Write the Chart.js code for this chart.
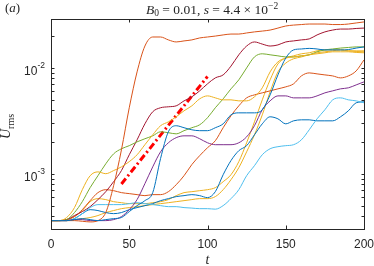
<!DOCTYPE html>
<html lang="en">
<head>
<meta charset="UTF-8">
<title>U_rms growth, B0 = 0.01</title>
<script src="https://cdn.jsdelivr.net/npm/chart.js"></script>
<style>
    html, body { margin: 0; padding: 0; background: #fff; }
    #wrap { width: 374px; height: 266px; }
</style>
</head>
<body>
<div id="wrap"><canvas id="chart" width="374" height="266"></canvas></div>
<script>
    // time samples
    const tValues = [0, 5, 10, 15, 20, 25, 30, 35, 40, 45, 50, 55, 60, 65, 70, 75, 80, 85, 90, 95,
                     100, 105, 110, 115, 120, 125, 130, 135, 140, 145, 150, 155, 160, 165, 170, 175, 180, 185, 190, 195, 200];

    // U_rms of each run, in units of 1e-3
    const blueA = [0.36, 0.36, 0.36, 0.368, 0.376, 0.368, 0.36, 0.368, 0.376, 0.385,
                   0.438, 0.499, 0.556, 0.662, 1.39, 2.49, 2.84, 2.72, 2.60, 2.55,
                   2.55, 2.72, 2.96, 3.60, 3.76, 3.76, 3.76, 4.02, 5.56, 8.59,
                   12.4, 14.8, 15.1, 15.3, 15.1, 14.8, 14.8, 14.8, 14.9, 15.4, 15.8];
    const orangeA = [0.36, 0.36, 0.36, 0.36, 0.355, 0.35, 0.36, 0.43, 0.77, 1.68,
                     4.20, 9.17, 16.1, 19.6, 19.6, 18.4, 17.6, 18.0, 18.4, 19.2,
                     19.6, 20.0, 20.5, 20.9, 20.9, 21.4, 21.9, 22.3, 22.8, 23.8,
                     24.9, 25.4, 25.7, 26.0, 26.0, 26.0, 25.7, 25.7, 26.0, 26.6, 27.2];
    const yellowA = [0.36, 0.36, 0.385, 0.478, 0.706, 0.957, 1.04, 1.00, 1.07, 1.16,
                     1.30, 1.51, 1.88, 2.33, 2.84, 3.09, 3.45, 3.93, 4.38, 5.10,
                     5.44, 5.21, 4.99, 4.99, 4.88, 4.88, 5.33, 6.48, 9.17, 11.4,
                     12.4, 12.7, 13.0, 13.3, 13.9, 14.2, 14.5, 14.8, 14.5, 14.3, 14.2];
    const purple = [0.36, 0.36, 0.36, 0.368, 0.368, 0.36, 0.36, 0.36, 0.368, 0.393,
                    0.457, 0.569, 0.805, 1.16, 1.61, 1.96, 2.19, 2.28, 2.28, 2.14,
                    1.96, 1.88, 1.88, 1.88, 1.96, 2.23, 2.84, 4.02, 4.88, 5.44,
                    5.44, 5.21, 5.21, 5.21, 5.44, 5.81, 6.07, 6.34, 6.48, 6.91, 7.38];
    const green = [0.36, 0.36, 0.368, 0.429, 0.544, 0.738, 0.957, 1.24, 1.54, 1.72,
                   1.84, 2.00, 2.14, 2.28, 2.49, 2.44, 2.38, 2.55, 2.72, 2.90,
                   3.38, 4.20, 5.10, 6.34, 7.71, 10.0, 12.7, 13.6, 13.3, 13.0,
                   12.7, 12.7, 13.0, 13.3, 14.2, 14.8, 15.1, 15.4, 15.6, 15.8, 15.8];
    const lightBlue = [0.36, 0.36, 0.36, 0.376, 0.419, 0.478, 0.510, 0.510, 0.510, 0.510,
                       0.521, 0.532, 0.521, 0.510, 0.499, 0.488, 0.488, 0.478, 0.473, 0.467,
                       0.467, 0.462, 0.499, 0.581, 0.706, 0.957, 1.19, 1.51, 1.72, 1.80,
                       1.84, 1.88, 2.09, 2.60, 3.30, 4.02, 4.99, 5.21, 4.99, 4.88, 4.68];
    const darkRed = [0.36, 0.36, 0.368, 0.402, 0.438, 0.488, 0.569, 0.676, 0.840, 1.07,
                     1.51, 2.09, 2.96, 3.85, 4.20, 4.29, 4.38, 4.88, 5.33, 6.07,
                     7.07, 8.05, 8.59, 10.4, 13.3, 16.1, 17.6, 16.8, 16.1, 16.5,
                     17.6, 18.0, 18.4, 18.8, 20.5, 21.9, 22.8, 23.3, 23.3, 23.6, 23.8];
    const blueC = [0.36, 0.36, 0.36, 0.376, 0.419, 0.457, 0.448, 0.429, 0.419, 0.429,
                   0.457, 0.478, 0.499, 0.521, 0.556, 0.581, 0.607, 0.620, 0.634, 0.620,
                   0.594, 0.676, 0.978, 1.33, 1.65, 1.84, 2.33, 2.96, 3.45, 3.30,
                   2.96, 3.16, 3.23, 3.23, 3.16, 3.16, 3.16, 3.45, 3.93, 4.68, 4.78];
    const orangeB = [0.36, 0.36, 0.368, 0.393, 0.457, 0.556, 0.662, 0.706, 0.691, 0.662,
                     0.648, 0.634, 0.620, 0.634, 0.634, 0.676, 0.787, 0.957, 1.22, 1.48,
                     1.76, 2.05, 2.72, 3.53, 4.38, 5.21, 5.56, 5.81, 6.07, 6.34,
                     6.62, 7.07, 8.40, 8.97, 8.78, 8.59, 8.40, 8.05, 8.40, 9.37, 11.9];
    const yellowB = [0.36, 0.36, 0.368, 0.393, 0.448, 0.544, 0.581, 0.569, 0.544, 0.532,
                     0.521, 0.521, 0.521, 0.532, 0.544, 0.569, 0.620, 0.662, 0.676, 0.691,
                     0.706, 0.738, 0.840, 0.978, 1.30, 1.96, 3.09, 4.99, 7.71, 10.9,
                     12.4, 13.0, 13.6, 13.9, 14.5, 14.8, 14.8, 14.8, 14.5, 14.5, 14.5];
    const yellowC = [0.36, 0.36, 0.36, 0.368, 0.376, 0.385, 0.402, 0.429, 0.448, 0.467,
                     0.478, 0.488, 0.499, 0.510, 0.521, 0.532, 0.544, 0.556, 0.569, 0.581,
                     0.581, 0.607, 0.706, 0.878, 1.14, 1.61, 2.33, 3.60, 5.94, 9.17,
                     11.1, 12.2, 12.7, 13.3, 13.6, 13.9, 14.2, 14.2, 14.2, 14.0, 13.9];

    // exponential-growth guide (dash-dot red)
    const fitT = [45, 100];
    const fitU = [0.80, 8.3];

    const xTicks = [0, 50, 100, 150, 200];
    const yDecades = [-3, -2];
    const Y_MIN = 3.03e-4;
    const Y_MAX = 0.029;

    const runs = [
        { u: blueA, color: '#0072BD' },
        { u: orangeA, color: '#D95319' },
        { u: yellowA, color: '#EDB120' },
        { u: purple, color: '#7E2F8E' },
        { u: green, color: '#77AC30' },
        { u: lightBlue, color: '#4DBEEE' },
        { u: darkRed, color: '#A2142F' },
        { u: blueC, color: '#0072BD' },
        { u: orangeB, color: '#D95319' },
        { u: yellowB, color: '#EDB120' },
        { u: yellowC, color: '#EDB120' }
    ];

    const datasets = runs.map(r => ({
        data: tValues.map((t, i) => ({ x: t, y: r.u[i] * 1e-3 })),
        borderColor: r.color,
        borderWidth: 1,
        fill: false,
        cubicInterpolationMode: 'monotone'
    }));
    datasets.push({
        data: fitT.map((t, i) => ({ x: t, y: fitU[i] * 1e-3 })),
        borderColor: '#FF0000',
        borderWidth: 3,
        borderDash: [7, 3, 2, 3],
        borderCapStyle: 'butt',
        fill: false
    });

    const INK = '#262626';

    // draws text pieces one after another, returns end x
    function drawPieces(ctx, pieces, x, y) {
        pieces.forEach(p => {
            ctx.font = p.font;
            ctx.fillText(p.text, x, y + (p.dy || 0));
            x += ctx.measureText(p.text).width;
        });
        return x;
    }

    const axesPlugin = {
        id: 'matlabAxes',
        afterDraw(chart) {
            const ctx = chart.ctx;
            const a = chart.chartArea;
            const xs = chart.scales.x, ys = chart.scales.y;
            ctx.save();
            ctx.strokeStyle = INK;
            ctx.fillStyle = INK;
            ctx.lineWidth = 1;

            // box
            ctx.strokeRect(a.left + 0.5, a.top + 0.5, a.right - a.left, a.bottom - a.top);

            // x ticks (inward, bottom and top) and labels
            const tl = 3.5;
            ctx.beginPath();
            xTicks.forEach(v => {
                const px = Math.round(xs.getPixelForValue(v)) + 0.5;
                ctx.moveTo(px, a.bottom); ctx.lineTo(px, a.bottom - tl);
                ctx.moveTo(px, a.top); ctx.lineTo(px, a.top + tl);
            });
            // y ticks, major and minor, left and right
            for (let k = -4; k <= -1; k++) {
                for (let m = 1; m <= 9; m++) {
                    const v = m * Math.pow(10, k);
                    if (v < Y_MIN || v > Y_MAX) continue;
                    const py = Math.round(ys.getPixelForValue(v)) + 0.5;
                    ctx.moveTo(a.left, py); ctx.lineTo(a.left + tl, py);
                    ctx.moveTo(a.right + 1, py); ctx.lineTo(a.right + 1 - tl, py);
                }
            }
            ctx.stroke();

            ctx.textBaseline = 'alphabetic';
            ctx.textAlign = 'center';
            ctx.font = '12px "Liberation Sans", Arial, sans-serif';
            xTicks.forEach(v => {
                ctx.fillText(String(v), xs.getPixelForValue(v), 248);
            });

            ctx.textAlign = 'left';
            yDecades.forEach(k => {
                const py = ys.getPixelForValue(Math.pow(10, k));
                const base = { text: '10', font: '12px "Liberation Sans", Arial, sans-serif' };
                const sup = { text: String(k), font: '8.5px "Liberation Sans", Arial, sans-serif', dy: -7 };
                ctx.font = base.font;
                let w = ctx.measureText(base.text).width;
                ctx.font = sup.font;
                w += ctx.measureText(sup.text).width;
                drawPieces(ctx, [base, sup], 45 - w, py + 7);
            });

            // axis labels
            const serif = '"Liberation Serif", "DejaVu Serif", serif';
            ctx.textAlign = 'center';
            ctx.font = 'italic 14px ' + serif;
            ctx.fillText('t', (a.left + a.right) / 2, 264);

            ctx.textAlign = 'left';
            ctx.save();
            ctx.translate(10, 139);
            ctx.rotate(-Math.PI / 2);
            drawPieces(ctx, [
                { text: 'U', font: 'italic 14px ' + serif },
                { text: 'rms', font: '10px ' + serif, dy: 4 }
            ], 0, 0);
            ctx.restore();

            // panel tag and title
            drawPieces(ctx, [
                { text: '(', font: '13px ' + serif },
                { text: 'a', font: 'italic 13px ' + serif },
                { text: ')', font: '13px ' + serif }
            ], 5, 12);

            drawPieces(ctx, [
                { text: 'B', font: 'italic 13.5px ' + serif },
                { text: '0', font: '9.5px ' + serif, dy: 2.5 },
                { text: ' = 0.01, ', font: '13.5px ' + serif },
                { text: 's', font: 'italic 13.5px ' + serif },
                { text: ' = 4.4 \u00d7 10', font: '13.5px ' + serif },
                { text: '\u22122', font: '9.5px ' + serif, dy: -5 }
            ], 146, 13.5);

            ctx.restore();
        }
    };

    new Chart(document.getElementById('chart').getContext('2d'), {
        type: 'line',
        data: { datasets },
        options: {
            responsive: false,
            animation: false,
            devicePixelRatio: 1,
            layout: { padding: { left: 51, top: 19, right: 10, bottom: 37 } },
            plugins: { legend: { display: false }, tooltip: { enabled: false } },
            elements: { point: { radius: 0 } },
            scales: {
                x: { type: 'linear', min: 0, max: 200, display: false },
                y: { type: 'logarithmic', min: Y_MIN, max: Y_MAX, display: false }
            }
        },
        plugins: [axesPlugin]
    });
</script>
</body>
</html>
